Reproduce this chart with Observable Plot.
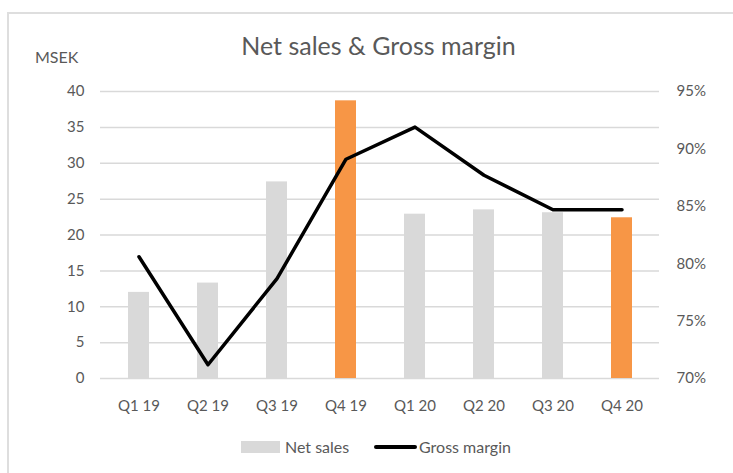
<!DOCTYPE html>
<html>
<head>
<meta charset="utf-8">
<script src="https://cdn.jsdelivr.net/npm/d3@7"></script>
<script src="https://cdn.jsdelivr.net/npm/@observablehq/plot@0.6"></script>
<style>
  html, body { margin: 0; padding: 0; background: #fff; }
  #wrap { position: relative; width: 733px; height: 473px; overflow: hidden; font-family: Lato, "Noto Sans", sans-serif; color: #595959; }
  #frame { position: absolute; left: 7px; top: 12px; width: 740px; height: 480px; border: 2px solid #dedede; box-sizing: border-box; }
  #title { position: absolute; left: 0; width: 757px; top: 30px; text-align: center; font-size: 25px; color: #595959; }
  #unit { position: absolute; left: 35px; top: 47px; font-size: 16px; color: #595959; }
  #chart { position: absolute; left: 0; top: 0; }
  #legend { position: absolute; top: 437px; left: 0; width: 733px; font-size: 16px; color: #595959; }
  .lg { position: absolute; display: flex; align-items: center; }
  .sw { display: inline-block; }
</style>
</head>
<body>
<div id="wrap">
  <div id="frame"></div>
  <div id="title"></div>
  <div id="unit"></div>
  <div id="chart"></div>
  <div id="legend"></div>
</div>
<script>
const chartTitle = "Net sales & Gross margin";
const unitLabel = "MSEK";
const quarters = ["Q1 19", "Q2 19", "Q3 19", "Q4 19", "Q1 20", "Q2 20", "Q3 20", "Q4 20"];
const netSales = [12.0, 13.3, 27.4, 38.7, 22.9, 23.5, 23.1, 22.4];
const highlighted = ["Q4 19", "Q4 20"];
const grossMargin = [80.6, 71.2, 78.7, 89.1, 91.9, 87.7, 84.7, 84.7];
const leftTicks = [0, 5, 10, 15, 20, 25, 30, 35, 40];
const rightTicks = [70, 75, 80, 85, 90, 95];
const seriesNames = ["Net sales", "Gross margin"];

const leftMax = 40, rMin = 70, rMax = 95;
const toLeft = p => (p - rMin) / (rMax - rMin) * leftMax;
const fromLeft = v => v / leftMax * (rMax - rMin) + rMin;

const barData = quarters.map((q, i) => ({q, v: netSales[i], hl: highlighted.includes(q)}));
const lineData = quarters.map((q, i) => ({q, v: toLeft(grossMargin[i])}));

const font = "Lato, 'Noto Sans', sans-serif";
const plot = Plot.plot({
  width: 733,
  height: 473,
  marginLeft: 100,
  marginRight: 74,
  marginTop: 91,
  marginBottom: 95,
  style: {fontFamily: font, fontSize: "15px", color: "#595959", background: "transparent"},
  x: {domain: quarters, paddingInner: 0.7, paddingOuter: 0.35, label: null},
  y: {domain: [0, leftMax], label: null},
  marks: [
    Plot.ruleY(leftTicks, {stroke: "#d9d9d9", strokeWidth: 1.5}),
    Plot.barY(barData, {x: "q", y: "v", fill: d => d.hl ? "#f79646" : "#d9d9d9"}),
    Plot.line(lineData, {x: "q", y: "v", stroke: "#000", strokeWidth: 3.5, strokeLinejoin: "round", strokeLinecap: "round"}),
    Plot.axisY({anchor: "left", ticks: leftTicks, tickSize: 0, tickPadding: 16, label: null, fill: "#595959"}),
    Plot.axisY({anchor: "right", ticks: rightTicks.map(toLeft), tickFormat: d => Math.round(fromLeft(d)) + "%", tickSize: 0, tickPadding: 17, label: null, fill: "#595959"}),
    Plot.axisX({tickSize: 0, tickPadding: 22, label: null, fill: "#595959"})
  ]
});
document.getElementById("chart").appendChild(plot);
document.getElementById("title").textContent = chartTitle;
document.getElementById("unit").textContent = unitLabel;

const legend = document.getElementById("legend");
const items = [
  {name: seriesNames[0], left: 241, sw: '<span class="sw" style="width:39px;height:12px;background:#d9d9d9;margin-right:5px"></span>'},
  {name: seriesNames[1], left: 374, sw: '<span class="sw" style="width:43px;height:4px;background:#000;border-radius:2px;margin-right:2px"></span>'}
];
for (const it of items) {
  const el = document.createElement("div");
  el.className = "lg";
  el.style.left = it.left + "px";
  el.innerHTML = it.sw + "<span>" + it.name + "</span>";
  legend.appendChild(el);
}
</script>
</body>
</html>
